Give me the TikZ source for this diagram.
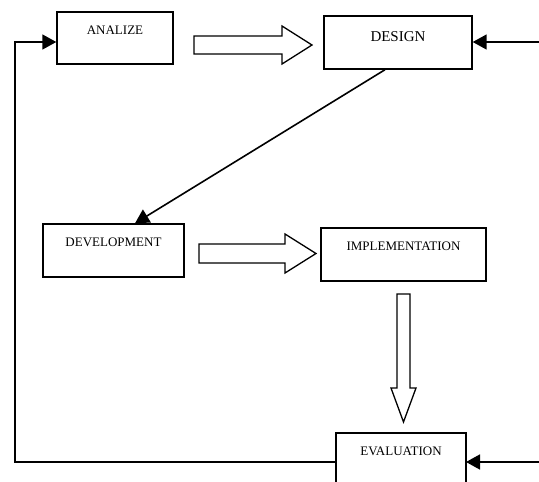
\documentclass[tikz,border=0pt]{standalone}
\usepackage{fontspec}
\setmainfont{Liberation Serif}
\usetikzlibrary{arrows.meta}
\tikzset{
  box/.style={draw, line width=1.4pt, fill=white, inner sep=0pt},
  lbl/.style={font=\fontsize{13}{15}\selectfont, inner sep=0pt},
  conn/.style={line width=1.6pt, -{Triangle[length=14pt,width=15pt]}},
  plain/.style={line width=1.4pt},
  hollow/.style={draw, line width=1.3pt, fill=white, line join=miter}
}
\begin{document}
\begin{tikzpicture}[x=1pt,y=-1pt]
\useasboundingbox (0,0) rectangle (539,482);
% boxes
\node[box, minimum width=116pt, minimum height=52pt] (ana) at (115,38) {};
\node[lbl] (anat) at (115,30.5) {ANALIZE};
\node[box, minimum width=148pt, minimum height=53pt] (des) at (398,42.5) {};
\node[lbl, font=\fontsize{15}{17}\selectfont] (dest) at (398,37) {DESIGN};
\node[box, minimum width=141pt, minimum height=53pt] (dev) at (113.5,250.5) {};
\node[lbl] (devt) at (113.5,242.5) {DEVELOPMENT};
\node[box, minimum width=165pt, minimum height=53pt] (imp) at (403.5,254.5) {};
\node[lbl] (impt) at (403.5,246.5) {IMPLEMENTATION};
% evaluation box (bottom cut by the page edge)
\coordinate (e1) at (336,433);
\coordinate (e2) at (466,433);
\draw[plain] (e1 |- 0,484) -- (e1) -- (e2) -- (e2 |- 0,484);
\node[lbl] (eva) at (401,451.5) {EVALUATION};
% hollow arrows
\draw[hollow] (194,36) -- (282,36) -- (282,26) -- (312,45) -- (282,64) -- (282,54) -- (194,54) -- cycle;
\draw[hollow] (199,244) -- (285,244) -- (285,234) -- (316,253.5) -- (285,273) -- (285,263) -- (199,263) -- cycle;
\draw[hollow] (397,294) -- (410,294) -- (410,388) -- (416,388) -- (403.5,422) -- (391,388) -- (397,388) -- cycle;
% connectors
\coordinate (r1) at (539,42);
\draw[conn] (r1) -- (des.east |- r1);
\coordinate (r2) at (539,462);
\draw[conn] (r2) -- (e2 |- r2);
\draw[conn] ([xshift=-13pt]des.south) -- ([xshift=21.5pt]dev.north);
\coordinate (fb1) at (15,462);
\coordinate (fb2) at (15,42);
\draw[conn] (e1 |- fb1) -- (fb1) -- (fb2) -- (ana.west |- fb2);
\end{tikzpicture}
\end{document}
